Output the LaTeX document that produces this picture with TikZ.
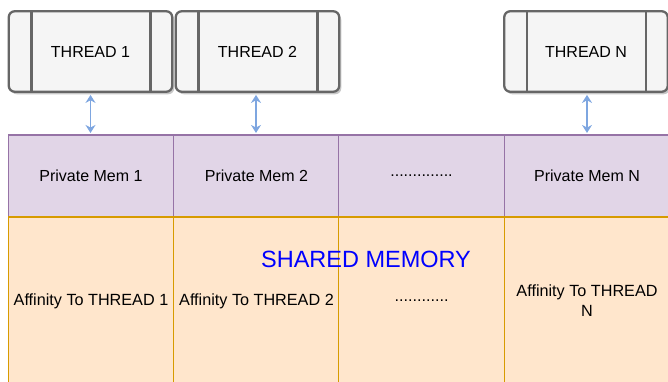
\documentclass[tikz,border=0pt]{standalone}
\usepackage{fontspec}
\setmainfont{Liberation Sans}
\usetikzlibrary{arrows.meta,shadows}
\definecolor{thfill}{HTML}{F5F5F5}
\definecolor{thline}{HTML}{666666}
\definecolor{pmfill}{HTML}{E1D5E7}
\definecolor{pmline}{HTML}{9673A6}
\definecolor{affill}{HTML}{FFE6CC}
\definecolor{afline}{HTML}{D79B00}
\definecolor{arrcol}{HTML}{7EA6E0}
\tikzset{
  threadbox/.style={draw=thline, fill=thfill, line width=2.3pt, rounded corners=6pt,
    minimum width=163.5pt, minimum height=80.5pt, inner sep=0pt, font=\fontsize{16}{18}\selectfont,
    drop shadow={shadow xshift=2pt, shadow yshift=-2.5pt, opacity=0.22, fill=black}},
  innerline/.style={draw=thline, line width=2.3pt},
  pmcell/.style={draw=pmline, fill=pmfill, line width=1.1pt, minimum width=165.5pt,
    minimum height=82pt, inner sep=0pt, font=\fontsize{16}{18}\selectfont},
  afcell/.style={draw=afline, fill=affill, line width=1.1pt, minimum width=165.5pt,
    minimum height=168pt, inner sep=0pt, align=center, font=\fontsize{16.2}{20}\selectfont},
  dblarrow/.style={draw=arrcol, line width=1.8pt, {Stealth[length=8pt,width=10pt]}-{Stealth[length=8pt,width=10pt]},
    shorten <=2pt, shorten >=1.5pt}
}
\begin{document}
\begin{tikzpicture}[x=1pt,y=-1pt]
\useasboundingbox (0,0) rectangle (668,381);
% memory cells
\node[pmcell] (pm1) at (91,176) {Private Mem 1};
\node[pmcell] (pm2) at (256.5,176) {Private Mem 2};
\node[pmcell] (pmd) at (421.5,176) {..............};
\node[pmcell] (pmN) at (587,176) {Private Mem N};
\node[afcell] (af1) at (91,301) {Affinity To THREAD 1};
\node[afcell] (af2) at (256.5,301) {Affinity To THREAD 2};
\node[afcell] (afd) at (421.5,301) {............};
\node[afcell] (afN) at (587,301) {Affinity To THREAD\\N};
\node[text=blue, font=\fontsize{23.5}{26}\selectfont] (shared) at (366,259) {SHARED MEMORY};
% threads
\node[threadbox] (t1) at (90.5,51.5) {THREAD 1};
\node[threadbox] (t2) at (257.5,51.5) {THREAD 2};
\node[threadbox] (tN) at (586,51.5) {THREAD N};
\foreach \t in {t1,t2,tN}{
  \draw[innerline] ([xshift=24pt]\t.north west) -- ([xshift=24pt]\t.south west);
  \draw[innerline] ([xshift=-23pt]\t.north east) -- ([xshift=-23pt]\t.south east);
}
% arrows
\draw[dblarrow] (t1.south) -- (t1.south |- pm1.north);
\draw[dblarrow] ([xshift=-1.5pt]t2.south) -- ([xshift=-1.5pt]t2.south |- pm2.north);
\draw[dblarrow] ([xshift=1pt]tN.south) -- ([xshift=1pt]tN.south |- pmN.north);
\end{tikzpicture}
\end{document}
